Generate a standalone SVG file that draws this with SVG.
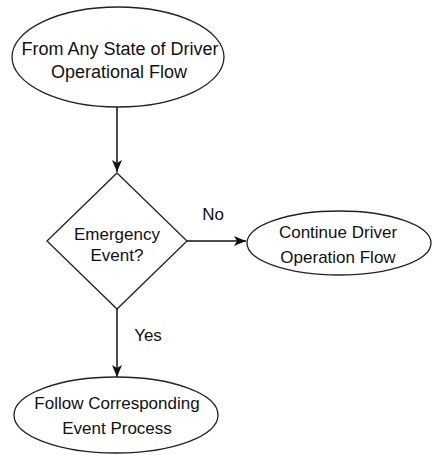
<svg xmlns="http://www.w3.org/2000/svg" width="433" height="455" viewBox="0 0 433 455">
<style>
.shape{fill:#fff;stroke:#222;stroke-width:1.3}
.t{font-family:"Liberation Sans",Arial,sans-serif;font-size:17px;fill:#111;text-anchor:middle}
.c{stroke:#111;stroke-width:1.5;fill:none}
</style>
<defs>
<marker id="ah" viewBox="0 0 12 10" refX="12" refY="5" markerWidth="12" markerHeight="10" markerUnits="userSpaceOnUse" orient="auto">
<path d="M0,0 L12,5 L0,10 L3,5 Z" fill="#111"/>
</marker>
</defs>
<rect width="433" height="455" fill="#fff"/>
<g id="connectors">
<line class="c" x1="117" y1="107" x2="117" y2="172" marker-end="url(#ah)"/>
<line class="c" x1="187" y1="241" x2="246" y2="241" marker-end="url(#ah)"/>
<line class="c" x1="117" y1="309" x2="117" y2="377" marker-end="url(#ah)"/>
<text class="t" x="213" y="220">No</text>
<text class="t" x="148" y="341">Yes</text>
</g>
<g id="start">
<ellipse class="shape" cx="118" cy="57" rx="106" ry="50"/>
<text class="t" x="120" y="55" style="font-size:18px">From Any State of Driver</text>
<text class="t" x="119" y="78" style="font-size:18px">Operational Flow</text>
</g>
<g id="decision">
<polygon class="shape" points="117,173 187,241 117,309 47,241"/>
<text class="t" x="117" y="240">Emergency</text>
<text class="t" x="117" y="261">Event?</text>
</g>
<g id="continue">
<ellipse class="shape" cx="339" cy="243" rx="92" ry="32"/>
<text class="t" x="338" y="238">Continue Driver</text>
<text class="t" x="338" y="263">Operation Flow</text>
</g>
<g id="follow">
<ellipse class="shape" cx="116" cy="415" rx="102" ry="38"/>
<text class="t" x="117" y="409">Follow Corresponding</text>
<text class="t" x="117" y="434">Event Process</text>
</g>
</svg>
